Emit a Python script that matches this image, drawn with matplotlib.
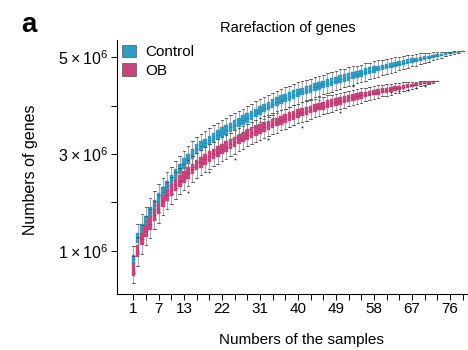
import matplotlib
matplotlib.use("Agg")
import matplotlib.pyplot as plt
from matplotlib.patches import Patch
import numpy as np

plt.rcParams['font.family'] = ['Liberation Sans', 'DejaVu Sans']
plt.rcParams['mathtext.fontset'] = 'custom'
plt.rcParams['mathtext.rm'] = 'Liberation Sans'

# gene counts per number of pooled samples, in units of 1e4 genes
ctrl_median = [82, 126, 145, 161, 179, 194, 209, 221, 234, 246,
               258, 269, 280, 290, 300, 310, 316, 322, 328, 334,
               340, 345, 350, 355, 360, 365, 370, 375, 380, 385,
               390, 395, 399, 404, 408, 412, 416, 419, 423, 426,
               429, 432, 435, 438, 441, 444, 447, 449, 452, 455,
               457, 460, 462, 465, 467, 470, 472, 475, 477, 479,
               481, 483, 485, 487, 489, 491, 493, 495, 497, 498,
               500, 502, 503, 505, 507, 508, 510, 511, 513]
# half of the interquartile range
ctrl_box = [10, 11, 11, 11, 11, 11, 11, 11, 11, 11,
            11, 11, 11, 11, 11, 10, 10, 10, 10, 10,
            10, 10, 10, 10, 10, 10, 10, 10, 9, 9,
            9, 9, 9, 9, 9, 9, 9, 9, 9, 9,
            8, 8, 8, 8, 8, 8, 8, 8, 8, 8,
            8, 8, 7, 7, 7, 7, 7, 7, 6, 6,
            6, 6, 6, 5, 5, 5, 5, 4, 4, 4,
            3, 3, 3, 2, 2, 2, 1, 1, 0]
# whisker reach from the median
ctrl_whisk = [28, 30, 30, 30, 30, 29, 29, 29, 28, 28,
              28, 27, 27, 27, 27, 26, 26, 26, 26, 26,
              25, 25, 25, 25, 25, 24, 24, 24, 24, 24,
              23, 23, 23, 23, 23, 22, 22, 22, 22, 22,
              21, 21, 21, 21, 21, 20, 20, 20, 20, 20,
              19, 19, 19, 18, 18, 18, 17, 17, 17, 16,
              16, 15, 15, 14, 14, 13, 12, 12, 11, 10,
              9, 8, 7, 6, 5, 4, 3, 2, 0]
ctrl_fliers = {12: [238], 20: [300], 27: [338], 34: [375], 45: [412], 53: [440]}

ob_median = [61, 99, 124, 141, 156, 174, 187, 202, 215, 225,
             235, 244, 253, 261, 269, 277, 283, 289, 295, 300,
             305, 310, 315, 320, 325, 330, 334, 339, 343, 348,
             352, 356, 359, 363, 366, 370, 373, 377, 380, 384,
             387, 389, 392, 395, 398, 400, 403, 405, 408, 410,
             412, 415, 417, 419, 421, 423, 425, 427, 429, 431,
             432, 434, 436, 437, 439, 440, 442, 443, 445, 446,
             447, 449, 450]
ob_box = [13, 13, 13, 13, 13, 12, 12, 12, 12, 12,
          12, 12, 12, 12, 11, 11, 11, 11, 11, 11,
          11, 11, 11, 10, 10, 10, 10, 10, 10, 10,
          10, 10, 10, 9, 9, 9, 9, 9, 9, 9,
          9, 9, 8, 8, 8, 8, 8, 8, 8, 8,
          7, 7, 7, 7, 7, 6, 6, 6, 6, 5,
          5, 5, 5, 4, 4, 4, 3, 3, 3, 2,
          2, 1, 0]
ob_whisk = [28, 30, 30, 30, 30, 29, 29, 29, 28, 28,
            28, 27, 27, 27, 27, 26, 26, 26, 26, 25,
            25, 25, 25, 24, 24, 24, 24, 23, 23, 23,
            23, 22, 22, 22, 22, 21, 21, 21, 21, 20,
            20, 20, 19, 19, 19, 18, 18, 18, 17, 17,
            17, 16, 16, 15, 15, 14, 14, 13, 13, 12,
            12, 11, 10, 10, 9, 8, 7, 6, 5, 4,
            3, 2, 0]
ob_fliers = {14: [222], 19: [262], 25: [290], 33: [330], 41: [355], 50: [386],
             62: [428], 64: [430], 66: [433], 68: [437], 70: [440]}

x_ticks = list(range(1, 80, 3))
x_labels = [1, 7, 13, 22, 31, 40, 49, 58, 67, 76]
y_ticks = [1e6, 2e6, 3e6, 4e6, 5e6]
y_labels = [r'$\mathregular{1 \times 10^{6}}$', '', r'$\mathregular{3 \times 10^{6}}$', '',
            r'$\mathregular{5 \times 10^{6}}$']

CTRL = '#2f9cc6'
CTRL_DARK = '#237a9c'
OB = '#c9437d'
OB_DARK = '#9e3160'
unit = 1e4


def box_stats(median, half, whisk, fliers):
    stats = []
    for i, (m, h, w) in enumerate(zip(median, half, whisk)):
        n = i + 1
        stats.append(dict(med=m * unit, q1=(m - h) * unit, q3=(m + h) * unit,
                          whislo=(m - w) * unit, whishi=(m + w) * unit,
                          fliers=np.array(fliers.get(n, []), dtype=float) * unit))
    return stats


def draw(ax, median, half, whisk, fliers, color, dark):
    pos = np.arange(1, len(median) + 1)
    ax.bxp(box_stats(median, half, whisk, fliers), positions=pos, widths=0.85,
           patch_artist=True, manage_ticks=False, capwidths=0.6,
           boxprops=dict(facecolor=color, edgecolor=color, linewidth=0.3),
           medianprops=dict(color=dark, linewidth=0.4),
           whiskerprops=dict(color='#777777', linewidth=0.45),
           capprops=dict(color='#4a4a4a', linewidth=0.6),
           flierprops=dict(marker='o', markersize=1.4, markerfacecolor='#333333',
                           markeredgecolor='none'))


fig = plt.figure(figsize=(4.68, 3.5), dpi=100)
ax = fig.add_axes([117.3 / 468, 56 / 350, (468 - 117.3) / 468, 254 / 350])

draw(ax, ctrl_median, ctrl_box, ctrl_whisk, ctrl_fliers, CTRL, CTRL_DARK)
draw(ax, ob_median, ob_box, ob_whisk, ob_fliers, OB, OB_DARK)

ax.set_xlim(-2.8, 80.3)
ax.set_ylim(0.104e6, 5.358e6)

ax.spines['top'].set_visible(False)
ax.spines['right'].set_visible(False)
for s in ('left', 'bottom'):
    ax.spines[s].set_linewidth(0.8)

ax.set_xticks(x_ticks)
ax.set_xticklabels([str(t) if t in x_labels else '' for t in x_ticks])
ax.set_yticks(y_ticks)
ax.set_yticklabels(y_labels)
ax.tick_params(axis='x', length=4, width=0.7, labelsize=11, pad=2)
ax.tick_params(axis='y', length=4.5, width=0.7, labelsize=11.5, pad=2)

ax.set_xlabel('Numbers of the samples', fontsize=11)
ax.xaxis.set_label_coords(0.524, -0.155)
ax.set_ylabel('Numbers of genes', fontsize=11.5)
ax.yaxis.set_label_coords(-0.225, 0.49)

fig.text(0.615, 0.92, 'Rarefaction of genes', fontsize=10.5, ha='center', va='center')
fig.text(0.045, 0.965, 'a', fontsize=20, fontweight='bold', ha='left', va='top')

handles = [Patch(facecolor=CTRL, edgecolor='#555555', linewidth=0.5, label='Control'),
           Patch(facecolor=OB, edgecolor='#555555', linewidth=0.5, label='OB')]
ax.legend(handles=handles, loc='upper left', bbox_to_anchor=(0.0, 1.0), frameon=False,
          fontsize=11, handlelength=0.9, handleheight=0.9, handletextpad=0.6,
          labelspacing=0.25, borderaxespad=0.1, borderpad=0.2)

fig.savefig('out.png', dpi=100)
